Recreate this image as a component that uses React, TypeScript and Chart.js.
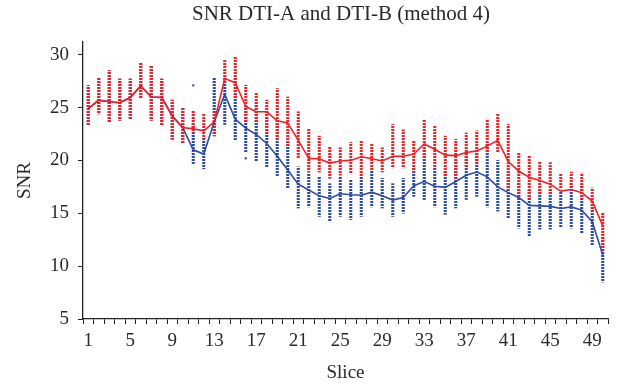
import { useEffect, useRef } from 'react';
import { Chart, registerables } from 'chart.js';

Chart.register(...registerables);

const slices = ['1','2','3','4','5','6','7','8','9','10','11','12','13','14','15','16','17','18','19','20','21','22','23','24','25','26','27','28','29','30','31','32','33','34','35','36','37','38','39','40','41','42','43','44','45','46','47','48','49','50'];
const shownTicks = ['1','5','9','13','17','21','25','29','33','37','41','45','49'];

const redMean = [24.9, 25.7, 25.55, 25.45, 25.95, 27.05, 26.0, 25.95, 24.2, 23.1, 23.0, 22.8, 23.65, 27.75, 27.35, 25.1, 24.6, 24.6, 23.75, 23.55, 21.9, 20.2, 20.15, 19.75, 19.95, 20.0, 20.35, 20.15, 19.95, 20.4, 20.4, 20.6, 21.55, 21.05, 20.5, 20.45, 20.75, 20.9, 21.35, 21.9, 19.9, 19.0, 18.4, 18.1, 17.75, 17.1, 17.25, 16.95, 16.15, 13.8];
const blueMean = [24.9, 25.7, 25.55, 25.45, 25.95, 27.05, 26.0, 25.95, 24.2, 23.1, 21.0, 20.6, 23.65, 26.25, 23.9, 23.05, 22.45, 21.6, 20.4, 19.1, 17.75, 17.2, 16.65, 16.4, 16.85, 16.75, 16.7, 17.0, 16.65, 16.25, 16.5, 17.6, 18.0, 17.55, 17.45, 18.0, 18.6, 18.9, 18.45, 17.5, 16.95, 16.5, 15.75, 15.7, 15.65, 15.45, 15.6, 15.3, 14.2, 11.05];

const redLow = [23.4, 24.4, 23.6, 23.8, 23.9, 25.9, 23.8, 23.3, 22.0, 21.6, 22.7, 22.1, 22.3, 27.4, 25.9, 23.7, 23.5, 22.4, 22.1, 21.2, 20.2, 18.9, 18.9, 18.3, 18.6, 18.8, 18.5, 19.1, 18.9, 19.3, 19.3, 18.9, 20.2, 19.3, 18.5, 18.3, 19.3, 19.6, 20.7, 20.8, 17.2, 16.6, 16.4, 16.7, 16.7, 17.3, 17.4, 16.4, 15.3, 11.5];
const redHigh = [27.1, 27.8, 28.5, 27.7, 27.7, 29.2, 28.9, 27.7, 25.7, 25.0, 24.7, 24.4, 24.7, 29.5, 29.8, 27.1, 26.4, 25.7, 26.8, 26.0, 24.6, 23.0, 22.3, 21.3, 21.2, 21.7, 21.9, 21.6, 21.2, 23.4, 22.9, 21.9, 23.8, 23.3, 22.3, 22.0, 22.6, 22.8, 23.9, 24.4, 23.4, 20.7, 20.4, 19.9, 19.8, 18.7, 18.9, 18.8, 17.4, 15.0];

const blueLow = [23.4, 24.4, 23.6, 23.8, 23.9, 25.9, 23.8, 23.3, 22.0, 21.6, 19.7, 19.2, 22.4, 23.4, 21.9, 20.8, 19.9, 19.4, 18.5, 17.4, 15.5, 15.6, 14.7, 14.2, 14.7, 14.4, 14.7, 15.6, 15.5, 14.7, 15.0, 16.6, 16.3, 15.6, 14.9, 15.5, 16.3, 16.6, 15.6, 15.2, 14.5, 13.6, 12.8, 13.5, 13.5, 13.7, 13.6, 13.1, 12.0, 8.5];
const blueHigh = [27.1, 27.8, 28.5, 27.7, 27.7, 29.2, 28.9, 27.7, 25.7, 25.0, 23.4, 22.1, 27.8, 27.9, 27.8, 25.1, 25.4, 24.8, 23.8, 21.9, 19.4, 18.8, 18.5, 17.8, 18.4, 18.2, 18.4, 19.1, 18.3, 17.8, 18.3, 19.3, 21.0, 19.3, 19.1, 20.0, 20.7, 21.1, 21.6, 20.0, 18.9, 18.0, 17.2, 17.4, 17.2, 17.0, 17.8, 17.5, 16.2, 12.8];

const blueOutlierSlices = ['11', '16'];
const blueOutlierValues = [27.1, 20.2];

const yTicks = [5, 10, 15, 20, 25, 30];

const TITLE = 'SNR DTI-A and DTI-B (method 4)';
const RED = '#ec2229';
const BLUE = '#2d4c9f';
const FONT = "'Liberation Serif', 'DejaVu Serif', serif";
const TEXT = '#2a2a2a';

const titlePlugin = {
  id: 'centeredTitle',
  afterDraw(chart: any) {
    const { ctx } = chart;
    ctx.save();
    ctx.fillStyle = TEXT;
    ctx.font = `21px ${FONT}`;
    ctx.textAlign = 'center';
    ctx.textBaseline = 'middle';
    ctx.fillText(TITLE, 341, 14);
    ctx.restore();
  },
};

export default function App() {
  const ref = useRef<HTMLCanvasElement>(null);

  useEffect(() => {
    const canvas = ref.current!;
    const mainCtx = canvas.getContext('2d')!;
    const makePattern = (color: string) => {
      const c = document.createElement('canvas');
      c.width = 3;
      c.height = 3;
      const g = c.getContext('2d')!;
      g.fillStyle = color;
      g.fillRect(0, 0, 3, 2);
      return mainCtx.createPattern(c, 'repeat')!;
    };
    const redPattern = makePattern(RED);
    const bluePattern = makePattern(BLUE);

    const chart = new Chart(canvas, {
      type: 'bar',
      data: {
        labels: slices,
        datasets: [
          {
            type: 'line',
            label: 'DTI-A mean',
            data: redMean,
            borderColor: RED,
            borderWidth: 1.6,
            pointRadius: 0,
            tension: 0,
            order: 0,
          },
          {
            type: 'line',
            label: 'DTI-B mean',
            data: blueMean,
            borderColor: BLUE,
            borderWidth: 1.6,
            pointRadius: 0,
            tension: 0,
            order: 1,
          },
          {
            type: 'bar',
            label: 'DTI-A',
            data: redLow.map((lo, i) => [lo, redHigh[i]]),
            backgroundColor: redPattern,
            borderWidth: 0,
            barThickness: 2.4,
            grouped: false,
            order: 2,
          },
          {
            type: 'bar',
            label: 'DTI-B',
            data: blueLow.map((lo, i) => [lo, blueHigh[i]]),
            backgroundColor: bluePattern,
            borderWidth: 0,
            barThickness: 2.4,
            grouped: false,
            order: 3,
          },
          {
            type: 'line',
            label: 'DTI-B outliers',
            data: blueOutlierSlices.map((s, i) => ({ x: s, y: blueOutlierValues[i] })),
            showLine: false,
            pointStyle: 'rect',
            pointRadius: 1.5,
            pointBackgroundColor: BLUE,
            pointBorderWidth: 0,
            order: 4,
          },
        ] as any,
      },
      options: {
        responsive: false,
        animation: false,
        layout: { padding: { left: 0, right: 11, top: 42, bottom: 0 } },
        plugins: {
          legend: { display: false },
          tooltip: { enabled: false },
          title: { display: false },
        },
        scales: {
          x: {
            type: 'category',
            offset: true,
            grid: {
              display: true,
              offset: true,
              drawOnChartArea: false,
              drawTicks: true,
              tickLength: 5,
              tickColor: '#222',
              tickWidth: 1,
            },
            border: { display: true, color: '#222', width: 1.3 },
            ticks: {
              autoSkip: false,
              maxRotation: 0,
              padding: 6,
              color: TEXT,
              font: { family: FONT, size: 19 },
              callback: function (this: any, _v: any, i: number) {
                const l = slices[i];
                return shownTicks.includes(l) ? l : '';
              },
            },
            title: {
              display: true,
              text: 'Slice',
              color: TEXT,
              font: { family: FONT, size: 19, lineHeight: 1.2 },
              padding: { top: 0, bottom: 3 },
            },
            afterFit: (s: any) => {
              s.height = 68;
            },
          },
          y: {
            type: 'linear',
            min: 5,
            max: 31.2,
            grid: {
              display: true,
              drawOnChartArea: false,
              drawTicks: true,
              tickLength: 5,
              tickColor: '#222',
              tickWidth: 1,
            },
            border: { display: true, color: '#222', width: 1.3 },
            afterBuildTicks: (s: any) => {
              s.ticks = yTicks.map((v) => ({ value: v }));
            },
            ticks: {
              padding: 9,
              color: TEXT,
              font: { family: FONT, size: 19 },
            },
            title: {
              display: true,
              text: 'SNR',
              color: TEXT,
              font: { family: FONT, size: 19, lineHeight: 1.2 },
              padding: { top: 14, bottom: 0 },
            },
            afterFit: (s: any) => {
              s.width = 83;
            },
          },
        },
      } as any,
      plugins: [titlePlugin],
    });
    return () => chart.destroy();
  }, []);

  return (
    <div style={{ position: 'fixed', left: 0, top: 0, width: 619, height: 387, background: '#fff' }}>
      <canvas ref={ref} width={619} height={387} style={{ display: 'block' }} />
    </div>
  );
}
